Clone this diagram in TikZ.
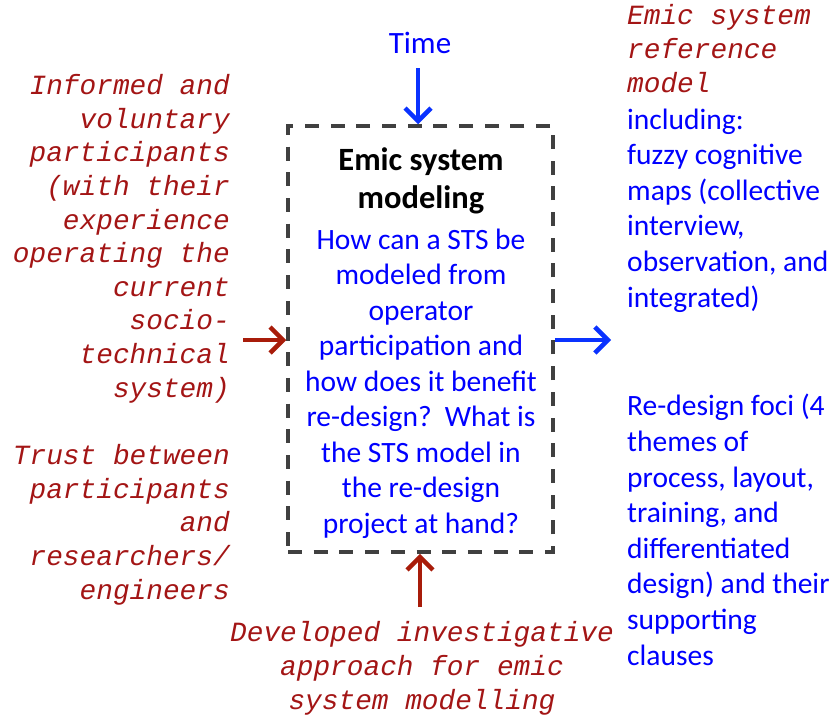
\documentclass[tikz,border=0pt]{standalone}
\usepackage{fontspec}
\setmainfont{Carlito}
\setmonofont{Liberation Mono}
\usetikzlibrary{arrows.meta}
\definecolor{darkred}{RGB}{163,21,21}
\definecolor{arrowred}{RGB}{168,28,10}
\definecolor{qblue}{RGB}{0,0,255}
\definecolor{arrowblue}{RGB}{10,50,255}
\definecolor{boxgray}{RGB}{64,64,64}
\tikzstyle{inputtext} = [
    inner sep=0pt,
    text=darkred,
    font=\fontsize{27.8}{33.6}\selectfont\ttfamily\itshape
]
\tikzstyle{outputtext} = [
    inner sep=0pt,
    align=left,
    anchor=base west,
    text=qblue,
    font=\fontsize{29.5}{35.6}\selectfont
]
\tikzstyle{modelbox} = [
    rectangle,
    minimum width=265pt,
    minimum height=426pt,
    draw=boxgray,
    line width=3.5pt,
    dash pattern=on 14pt off 11.7pt
]
\tikzstyle{redarrow} = [line width=4.5pt, draw=arrowred, -{Straight Barb[length=13pt,width=26pt]}]
\tikzstyle{bluearrow} = [line width=4.5pt, draw=arrowblue, -{Straight Barb[length=13pt,width=26pt]}]

\begin{document}
\begin{tikzpicture}[x=1pt, y=-1pt]
\useasboundingbox (0,0) rectangle (835,718);

\node (model) [modelbox] at (420.5,339) {};

% base anchor = baseline of the last line
\node (title) [anchor=base, align=center, inner sep=0pt,
    font=\fontsize{32.5}{38}\selectfont\bfseries] at (421,208)
{Emic system\\modeling};

\node (question) [anchor=base, align=center, inner sep=0pt, text=qblue,
    font=\fontsize{29.5}{35.5}\selectfont] at (421,533)
{How can a STS be\\modeled from\\operator\\participation and\\how does it benefit\\re-design?\ \ What is\\the STS model in\\the re-design\\project at hand?};

\node (time) [anchor=base, inner sep=0pt, text=qblue,
    font=\fontsize{31}{35.5}\selectfont] at (420,53) {Time};

\node (participants) [inputtext, align=right, anchor=base east] at (230,397)
{Informed and\\voluntary\\participants\\(with their\\experience\\operating the\\current\\socio-\\technical\\system)};

\node (trust) [inputtext, align=right, anchor=base east] at (230,599)
{Trust between\\participants\\and\\researchers/\\engineers};

\node (approach) [inputtext, align=center, anchor=base] at (422,709)
{Developed investigative\\approach for emic\\system modelling};

\node (reference) [inputtext, align=left, anchor=base west] at (627,92)
{Emic system\\reference\\model};

\node (including) [outputtext] at (627,307)
{including:\\fuzzy cognitive\\maps (collective\\interview,\\observation, and\\integrated)};

\node (foci) [outputtext] at (627,665)
{Re-design foci (4\\themes of\\process, layout,\\training, and\\differentiated\\design) and their\\supporting\\clauses};

\coordinate (timetail) at (418,68);
\coordinate (intail) at (243,340);
\coordinate (outtip) at (611,340);
\coordinate (uptail) at (420,607);

\draw [bluearrow] (timetail) -- (timetail |- model.north);
\draw [redarrow] (intail) -- (intail -| model.west);
\draw [bluearrow] (outtip -| model.east) -- (outtip);
\draw [redarrow] (uptail) -- (uptail |- model.south);

\end{tikzpicture}
\end{document}
